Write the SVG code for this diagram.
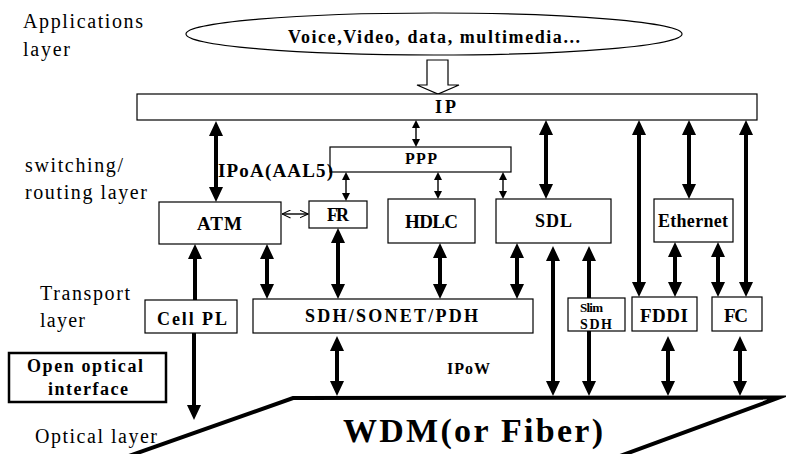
<svg xmlns="http://www.w3.org/2000/svg" width="786" height="454" viewBox="0 0 786 454">
  <defs>
    <style>
      .bg { fill: #fff; }
      .box { fill: #fff; stroke: #000; stroke-width: 1.2; }
      .lbl { font-family: "Liberation Serif", "Times New Roman", serif; fill: #000; }
      .layer { font-size: 20px; }
      .b { font-weight: bold; }
      .thick { stroke: #000; stroke-width: 4; fill: none; }
      .thin { stroke: #000; stroke-width: 1.4; fill: none; }
    </style>
    <!-- solid head for heavy connectors: tip sits 10 units past the line end -->
    <marker id="hb" viewBox="0 0 15 14" markerWidth="15" markerHeight="14" refX="5" refY="7" orient="auto-start-reverse" markerUnits="userSpaceOnUse">
      <path d="M0,0 L15,7 L0,14 Z" fill="#000"/>
    </marker>
    <!-- small solid head for light connectors -->
    <marker id="ht" viewBox="0 0 8 8" markerWidth="8" markerHeight="8" refX="3" refY="4" orient="auto-start-reverse" markerUnits="userSpaceOnUse">
      <path d="M0,0 L8,4 L0,8 Z" fill="#000"/>
    </marker>
    <!-- open chevron head -->
    <marker id="ho" viewBox="0 0 9 9" markerWidth="9" markerHeight="9" refX="8.5" refY="4.5" orient="auto-start-reverse" markerUnits="userSpaceOnUse">
      <path d="M0,0.5 L8.5,4.5 L0,8.5" fill="none" stroke="#000" stroke-width="1.1"/>
    </marker>
  </defs>

  <rect class="bg" x="0" y="0" width="786" height="454"/>

  <!-- layer captions -->
  <g id="layer-labels" class="lbl layer">
    <text x="23" y="28" textLength="120">Applications</text>
    <text x="23" y="56" textLength="47">layer</text>
    <text x="25" y="172" textLength="98">switching/</text>
    <text x="25" y="199" textLength="122">routing layer</text>
    <text x="40" y="300" textLength="90">Transport</text>
    <text x="40" y="327" textLength="45">layer</text>
    <text x="35" y="443" textLength="122">Optical layer</text>
  </g>

  <!-- optical medium -->
  <g id="wdm">
    <path d="M126,457 L293,398 L779,397.5 L620,456" fill="none" stroke="#000" stroke-width="4" stroke-linejoin="miter" stroke-miterlimit="10"/>
    <text class="lbl b" x="343" y="442" font-size="34" textLength="260">WDM(or Fiber)</text>
  </g>

  <!-- connectors -->
  <g id="connectors">
    <line class="thick" x1="216" y1="131" x2="216" y2="192" marker-start="url(#hb)" marker-end="url(#hb)"/>
    <line class="thick" x1="195" y1="300" x2="195" y2="254" marker-end="url(#hb)"/>
    <line class="thick" x1="267" y1="254" x2="267" y2="289" marker-start="url(#hb)" marker-end="url(#hb)"/>
    <line class="thick" x1="338" y1="238" x2="338" y2="289" marker-start="url(#hb)" marker-end="url(#hb)"/>
    <line class="thick" x1="440" y1="253" x2="440" y2="289" marker-start="url(#hb)" marker-end="url(#hb)"/>
    <line class="thick" x1="517" y1="253" x2="517" y2="289" marker-start="url(#hb)" marker-end="url(#hb)"/>
    <line class="thick" x1="546" y1="130" x2="546" y2="189" marker-start="url(#hb)" marker-end="url(#hb)"/>
    <line class="thick" x1="553" y1="256" x2="553" y2="386" marker-start="url(#hb)" marker-end="url(#hb)"/>
    <line class="thick" x1="589" y1="256" x2="589" y2="386" marker-start="url(#hb)" marker-end="url(#hb)"/>
    <line class="thick" x1="639" y1="130" x2="639" y2="287" marker-start="url(#hb)" marker-end="url(#hb)"/>
    <line class="thick" x1="689" y1="130" x2="689" y2="189" marker-start="url(#hb)" marker-end="url(#hb)"/>
    <line class="thick" x1="746" y1="130" x2="746" y2="287" marker-start="url(#hb)" marker-end="url(#hb)"/>
    <line class="thick" x1="675" y1="252" x2="675" y2="287" marker-start="url(#hb)" marker-end="url(#hb)"/>
    <line class="thick" x1="718" y1="252" x2="718" y2="287" marker-start="url(#hb)" marker-end="url(#hb)"/>
    <line class="thick" x1="337" y1="346" x2="337" y2="386" marker-start="url(#hb)" marker-end="url(#hb)"/>
    <line class="thick" x1="668" y1="346" x2="668" y2="386" marker-start="url(#hb)" marker-end="url(#hb)"/>
    <line class="thick" x1="740" y1="346" x2="740" y2="386" marker-start="url(#hb)" marker-end="url(#hb)"/>
    <line class="thick" x1="194" y1="333" x2="194" y2="410" stroke-width="3" marker-end="url(#hb)"/>
    <line class="thin" x1="416" y1="125" x2="416" y2="142" marker-start="url(#ht)" marker-end="url(#ht)"/>
    <line class="thin" x1="346" y1="177" x2="346" y2="196" marker-start="url(#ht)" marker-end="url(#ht)"/>
    <line class="thin" x1="438" y1="177" x2="438" y2="194" marker-start="url(#ht)" marker-end="url(#ht)"/>
    <line class="thin" x1="503" y1="177" x2="503" y2="194" marker-start="url(#ht)" marker-end="url(#ht)"/>
    <line class="thin" x1="282" y1="214" x2="308" y2="214" stroke-width="1.1" marker-start="url(#ho)" marker-end="url(#ho)"/>
    <!-- hollow block arrow from applications into IP -->
    <polygon points="427,60 448,60 448,85 459,85 438,94 417,85 427,85" fill="#fff" stroke="#000" stroke-width="1.2"/>
  </g>

  <g id="applications">
    <ellipse cx="434" cy="34" rx="248" ry="21" fill="#fff" stroke="#000" stroke-width="1.2"/>
    <text class="lbl b" x="288" y="43" font-size="18" textLength="292">Voice,Video, data, multimedia...</text>
  </g>

  <g id="ip">
    <rect class="box" x="137" y="94" width="620" height="26"/>
    <text class="lbl b" x="435" y="113" font-size="18" textLength="21">IP</text>
  </g>

  <g id="ppp">
    <rect class="box" x="330" y="147" width="181" height="25"/>
    <text class="lbl b" x="405" y="164" font-size="16" textLength="32">PPP</text>
  </g>

  <g id="ipoa-label">
    <text class="lbl b" x="218" y="177" font-size="19" textLength="115">IPoA(AAL5)</text>
  </g>

  <g id="atm">
    <rect class="box" x="159" y="202" width="122" height="42"/>
    <text class="lbl b" x="197" y="230" font-size="19" textLength="45">ATM</text>
  </g>

  <g id="fr">
    <rect class="box" x="309" y="201" width="58" height="27"/>
    <text class="lbl b" x="327" y="221" font-size="18" textLength="22">FR</text>
  </g>

  <g id="hdlc">
    <rect class="box" x="388" y="199" width="87" height="44"/>
    <text class="lbl b" x="405" y="228" font-size="19" textLength="53">HDLC</text>
  </g>

  <g id="sdl">
    <rect class="box" x="496" y="199" width="115" height="44"/>
    <text class="lbl b" x="535" y="227" font-size="18" textLength="37">SDL</text>
  </g>

  <g id="ethernet">
    <rect class="box" x="654" y="199" width="79" height="43"/>
    <text class="lbl b" x="658" y="227" font-size="18" textLength="70">Ethernet</text>
  </g>

  <g id="cell-pl">
    <rect class="box" x="145" y="300" width="92" height="33"/>
    <text class="lbl b" x="157" y="325" font-size="18" textLength="70">Cell PL</text>
  </g>

  <g id="sdh-sonet-pdh">
    <rect class="box" x="253" y="299" width="280" height="34"/>
    <text class="lbl b" x="305" y="322" font-size="18" textLength="173">SDH/SONET/PDH</text>
  </g>

  <g id="slim-sdh">
    <rect class="box" x="568" y="298" width="57" height="33"/>
    <text class="lbl b" x="580" y="312" font-size="13" textLength="23">Slim</text>
    <text class="lbl b" x="580" y="329" font-size="14" textLength="32">SDH</text>
  </g>

  <g id="fddi">
    <rect class="box" x="632" y="297" width="65" height="34"/>
    <text class="lbl b" x="640" y="322" font-size="19" textLength="48">FDDI</text>
  </g>

  <g id="fc">
    <rect class="box" x="712" y="297" width="50" height="34"/>
    <text class="lbl b" x="724" y="322" font-size="19" textLength="24">FC</text>
  </g>

  <g id="ipow-label">
    <text class="lbl b" x="447" y="374" font-size="16" textLength="43">IPoW</text>
  </g>

  <g id="open-optical-interface">
    <rect x="9" y="353" width="157" height="49" fill="#fff" stroke="#000" stroke-width="2.5"/>
    <text class="lbl b" x="27" y="372" font-size="18" textLength="116">Open optical</text>
    <text class="lbl b" x="48" y="395" font-size="18" textLength="80">interface</text>
  </g>
</svg>
